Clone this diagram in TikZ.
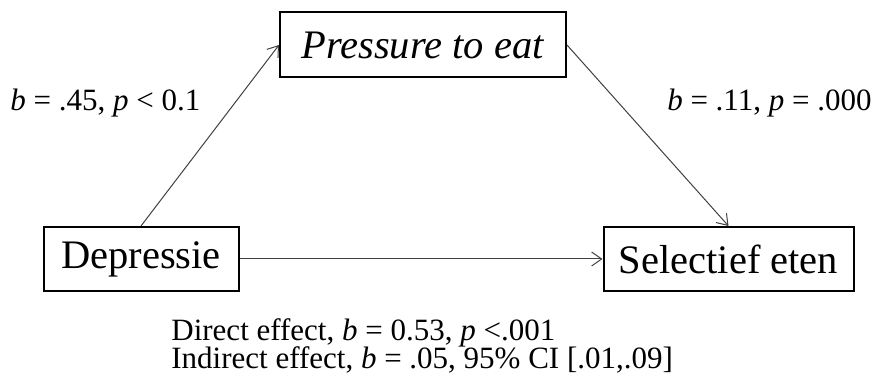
\documentclass[tikz,border=0pt]{standalone}
\usepackage{fontspec}
\setmainfont{Liberation Serif}
\usetikzlibrary{arrows.meta,positioning}

\begin{document}
\begin{tikzpicture}[x=0.5pt, y=-0.5pt,
box/.style={draw, line width=1pt, inner sep=0pt, minimum height=32pt, font=\fontsize{20.25}{24}\selectfont},
arrow/.style={-{Straight Barb[length=5pt,width=7pt]}, line width=0.5pt, black!75},
lab/.style={font=\fontsize{15.5}{16.5}\selectfont, inner sep=0pt}
]
\useasboundingbox (0,0) rectangle (875,379);
\node[box, minimum width=97.5pt] (depr) at (141,259) {Depressie};
\node[box, minimum width=125pt, right=181.5pt of depr] (selec) {Selectief eten};
\node[box, minimum width=143pt, minimum height=32.5pt] (press) at (423,45) {\textit{Pressure to eat}};

\node[lab, anchor=west] (aPath) at (10,103) {\textit{b} = .45, \textit{p} < 0.1};
\node[lab, anchor=east] (bPath) at (872,103) {\textit{b} = .11, \textit{p} = .000};
\node[lab, anchor=base west] (direct) at (171,341) {Direct effect, \textit{b} = 0.53, \textit{p} <.001};
\node[lab, anchor=base west] (indirect) at (171,369) {Indirect effect, \textit{b} = .05, 95\% CI [.01,.09]};

\draw[arrow] (depr.north) -- (press.west);
\draw[arrow] (press.east) -- (selec.north);
\draw[arrow] (depr) -- (selec);
\end{tikzpicture}
\end{document}
